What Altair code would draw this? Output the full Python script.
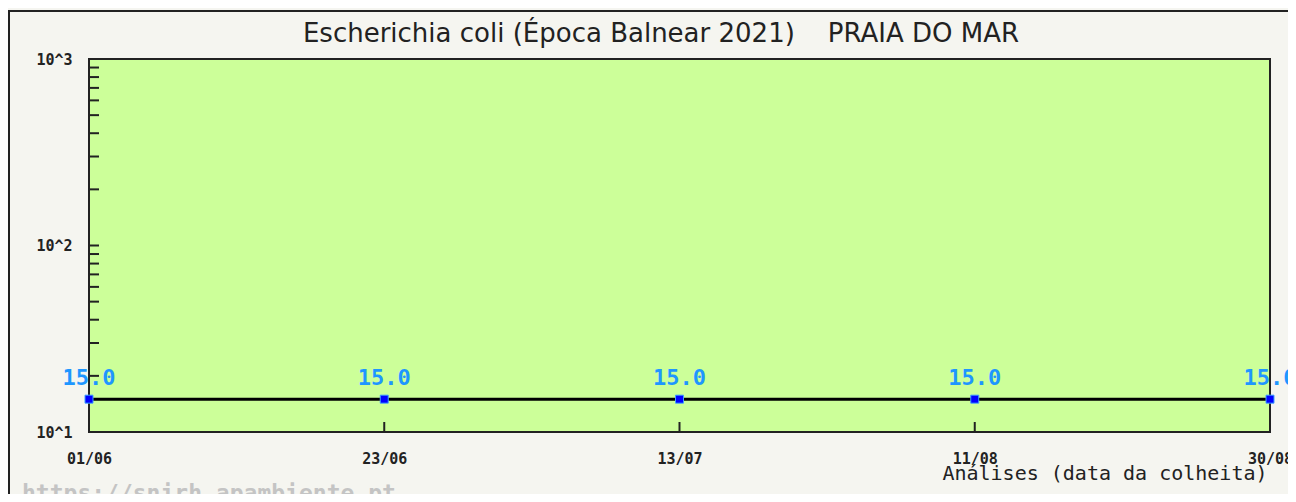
import altair as alt
import pandas as pd

# ---- data ----
datas = ["01/06", "23/06", "13/07", "11/08", "30/08"]
valores = [15.0, 15.0, 15.0, 15.0, 15.0]
minor_ticks = [20, 30, 40, 50, 60, 70, 80, 90, 100, 200, 300, 400, 500, 600, 700, 800, 900]
y_major = [10, 100, 1000]

titulo = "Escherichia coli (Época Balnear 2021)\u00a0\u00a0\u00a0\u00a0PRAIA DO MAR"
x_titulo = "Análises (data da colheita)"
marca = "https://snirh.apambiente.pt"

df = pd.DataFrame({"data": datas, "valor": valores})
df_minor = pd.DataFrame({"valor": minor_ticks})
df_xt = pd.DataFrame({"data": datas})

W, H = 1181, 373
MONO = "DejaVu Sans Mono"

x_enc = alt.X(
    "data:O",
    sort=datas,
    scale=alt.Scale(type="point", padding=0, domain=datas),
    axis=alt.Axis(
        title=x_titulo,
        titleFont=MONO, titleFontSize=20, titleFontWeight="normal", titleColor="#222",
        titleAnchor="end", titleAlign="right", titleX=1178, titleY=47, titleBaseline="alphabetic",
        labelFont=MONO, labelFontSize=15, labelFontWeight="bold", labelColor="#222",
        labelAngle=0, labelPadding=26, labelBaseline="middle",
        ticks=False, tickSize=0, domain=False, grid=False,
    ),
)
y_scale = alt.Scale(type="log", domain=[10, 1000], nice=False)
y_enc = alt.Y(
    "valor:Q",
    scale=y_scale,
    axis=alt.Axis(
        title=None, values=y_major,
        labelExpr="'10^' + round(log(datum.value)/LN10)",
        labelFont=MONO, labelFontSize=15, labelFontWeight="bold", labelColor="#222",
        labelPadding=17, labelAlign="right", labelBaseline="middle",
        ticks=False, tickSize=0, domain=False, grid=False,
    ),
)

base = alt.Chart(df)
line = base.mark_line(color="#000000", strokeWidth=3).encode(x=x_enc, y=y_enc)
pts = base.mark_square(size=64, fill="#0000ff", stroke="#3fa0ff", strokeWidth=1, opacity=1).encode(
    x="data:O", y="valor:Q")
lbl = base.mark_text(dy=-21, font=MONO, fontSize=22, fontWeight="bold", color="#1e96ff",
                     baseline="middle", align="center").encode(
    x="data:O", y="valor:Q", text=alt.Text("valor:Q", format=".1f"))

yt = alt.Chart(df_minor).mark_rule(color="#222", strokeWidth=2).encode(
    y="valor:Q", x=alt.value(0), x2=alt.value(10))
xt = alt.Chart(df_xt).mark_rule(color="#222", strokeWidth=2).encode(
    x="data:O", y=alt.value(H - 10), y2=alt.value(H))

one = alt.Data(values=[{}])
frame_top = alt.Chart(one).mark_rule(color="#222", strokeWidth=2).encode(
    x=alt.value(-81), x2=alt.value(W + 18), y=alt.value(-48))
frame_left = alt.Chart(one).mark_rule(color="#222", strokeWidth=2).encode(
    x=alt.value(-80), y=alt.value(-49), y2=alt.value(H + 62))
title = alt.Chart(one).mark_text(font="DejaVu Sans", fontSize=26, color="#222",
                                 align="center", baseline="alphabetic").encode(
    x=alt.value(572), y=alt.value(-17), text=alt.value(titulo))
wm = alt.Chart(one).mark_text(font=MONO, fontSize=23, fontWeight="bold", color="#c4c4c4",
                              align="left", baseline="alphabetic").encode(
    x=alt.value(-67), y=alt.value(442), text=alt.value(marca))

chart = alt.layer(line, pts, lbl, yt, xt, frame_top, frame_left, title, wm).properties(
    width=W, height=H,
    padding={"left": 81, "top": 51, "right": 18, "bottom": 62},
    autosize=alt.AutoSizeParams(type="none"),
    background="#f5f5f0",
).configure_view(fill="#ccff99", stroke="#222", strokeWidth=2)

chart.save("out.html", embed_options={"renderer": "svg", "actions": False})
